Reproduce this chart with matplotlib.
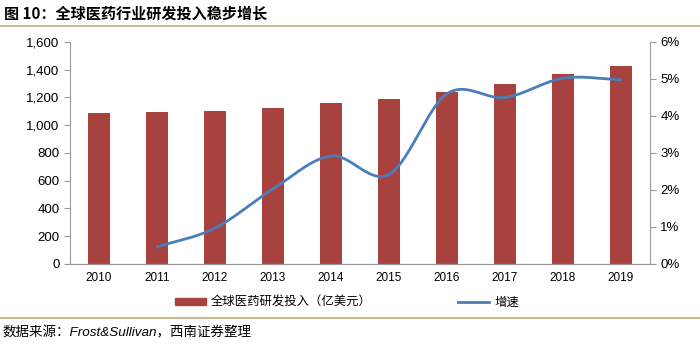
import numpy as np
import matplotlib
matplotlib.use('Agg')
import matplotlib.pyplot as plt
from matplotlib.patches import Patch
from matplotlib.lines import Line2D

plt.rcParams['font.family'] = ['Liberation Sans', 'Noto Sans CJK SC', 'DejaVu Sans']

# R&D spending (100M USD) and growth rate (%)
years = ['2010', '2011', '2012', '2013', '2014', '2015', '2016', '2017', '2018', '2019']
spend = [1088, 1095, 1105, 1127, 1158, 1189, 1242, 1297, 1367, 1429]
growth_years = ['2011', '2012', '2013', '2014', '2015', '2016', '2017', '2018', '2019']
growth = [0.46, 0.97, 2.03, 2.92, 2.42, 4.60, 4.50, 5.02, 4.98]

bar_color = '#A8423F'
line_color = '#4A7EBB'
axis_color = '#9a9a9a'
rule_color = '#C9B98E'


def smooth(x, y, n=30):
    # Catmull-Rom curve through the points, like a spreadsheet "smoothed line"
    x = np.asarray(x, float)
    y = np.asarray(y, float)
    px = np.concatenate([[2 * x[0] - x[1]], x, [2 * x[-1] - x[-2]]])
    py = np.concatenate([[2 * y[0] - y[1]], y, [2 * y[-1] - y[-2]]])
    xs, ys = [], []
    t = np.linspace(0, 1, n)
    for i in range(1, len(px) - 2):
        for p, out in ((px, xs), (py, ys)):
            p0, p1, p2, p3 = p[i - 1], p[i], p[i + 1], p[i + 2]
            out.extend(0.5 * (2 * p1 + (-p0 + p2) * t
                              + (2 * p0 - 5 * p1 + 4 * p2 - p3) * t ** 2
                              + (-p0 + 3 * p1 - 3 * p2 + p3) * t ** 3))
    return np.array(xs), np.array(ys)


fig = plt.figure(figsize=(7, 3.47), dpi=100)
ax = fig.add_axes([0.1, 0.2392, 0.8286, 0.6398])

x = np.arange(len(years))
ax.bar(x, spend, width=0.38, color=bar_color, zorder=2)
ax.set_xlim(-0.5, len(years) - 0.5)
ax.set_ylim(0, 1600)
ax.set_yticks(range(0, 1601, 200))
ax.set_yticklabels([f'{v:,}' for v in range(0, 1601, 200)])
ax.set_xticks(x)
ax.set_xticklabels(years)

ax2 = ax.twinx()
gx = np.array([years.index(y) for y in growth_years])
sx, sy = smooth(gx, growth)
ax2.plot(sx, sy, color=line_color, lw=2, solid_capstyle='round')
ax2.set_ylim(0, 6)
ax2.set_yticks(range(0, 7))
ax2.set_yticklabels([f'{v}%' for v in range(0, 7)])

for a in (ax, ax2):
    a.spines['top'].set_visible(False)
    for side in ('left', 'right', 'bottom'):
        a.spines[side].set_color(axis_color)
    a.tick_params(axis='y', colors=axis_color, labelcolor='black', labelsize=9.5, length=4)
    a.tick_params(axis='x', length=0, labelsize=8.5, pad=6)
ax.spines['right'].set_visible(False)
ax2.spines['left'].set_visible(False)

# legend
handles = [Patch(color=bar_color), Line2D([0], [0], color=line_color, lw=2)]
fig.legend(handles, ['全球医药研发投入（亿美元）', '增速'], loc='center left',
           bbox_to_anchor=(175 / 700, 0.127), ncol=2, frameon=False, fontsize=8.9,
           borderpad=0, borderaxespad=0,
           handlelength=2.5, handleheight=0.4, columnspacing=7.0, handletextpad=0.4)

# title and rules
fig.text(0.005, 0.962, '图 10：全球医药行业研发投入稳步增长', fontsize=10.9,
         fontweight='bold', va='center', ha='left',
         family=['Noto Sans CJK SC', 'DejaVu Sans'])
fig.add_artist(Line2D([0, 1], [0.925, 0.925], color=rule_color, lw=1.5))
fig.add_artist(Line2D([0, 1], [0.085, 0.085], color=rule_color, lw=1.5))
fig.text(0.003, 0.042, '数据来源：Frost&Sullivan，西南证券整理', fontsize=9.7,
         style='italic', va='center', ha='left')

fig.savefig('out.png', dpi=100)
